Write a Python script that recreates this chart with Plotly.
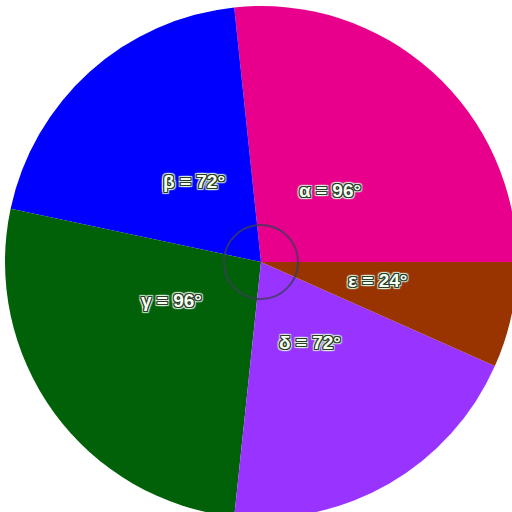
import math
import plotly.graph_objects as go

angles = ["α", "β", "γ", "δ", "ε"]
degrees = [96, 72, 96, 72, 24]
colors = ["#E8008C", "#0000FF", "#006108", "#9933FF", "#993300"]
labels_text = [f"{a} = {d}°" for a, d in zip(angles, degrees)]

# label placement tweaks (fraction of radius, angular nudge in degrees)
label_frac = [0.39, 0.41, 0.38, 0.37, 0.46]
label_nudge = [-2, -2, -13, 1.5, 3]

W = H = 524
CX, CY, R = 261, 262, 256  # pixels from top-left of the page
marker_r = 37

dark = "#2b3a2b"
light = "rgba(215,240,215,0.9)"
ring1 = [f"{dx}px {dy}px 0 {dark}" for dx in (-1, 0, 1) for dy in (-1, 0, 1) if dx or dy]
ring2 = [f"{dx}px {dy}px 1px {light}" for dx in (-2, 0, 2) for dy in (-2, 0, 2) if dx or dy]
shadow = ", ".join(ring1 + ring2)

fig = go.Figure(go.Pie(
    labels=angles,
    values=degrees,
    textinfo="none",
    marker=dict(colors=colors, line=dict(width=0)),
    sort=False,
    direction="counterclockwise",
    rotation=-6,
    showlegend=False,
    hoverinfo="none",
    domain=dict(x=[(CX - R) / W, (CX + R) / W], y=[(H - CY - R) / H, (H - CY + R) / H]),
))

cx, cy = CX / W, (H - CY) / H
total = sum(degrees)
start = 0.0
for txt, v, f, n in zip(labels_text, degrees, label_frac, label_nudge):
    mid = math.radians((start + v / 2) * 360 / total + n)
    start += v
    fig.add_annotation(
        x=cx + f * R * math.cos(mid) / W,
        y=cy + f * R * math.sin(mid) / H,
        xref="paper", yref="paper", xanchor="center", yanchor="middle",
        text=f"<b>{txt}</b>", showarrow=False,
        font=dict(color="#f4fff0", size=19, family="Liberation Sans", shadow=shadow),
    )

fig.add_shape(type="circle", xref="paper", yref="paper",
              x0=cx - marker_r / W, x1=cx + marker_r / W,
              y0=cy - marker_r / H, y1=cy + marker_r / H,
              line=dict(color="rgba(60,60,90,0.8)", width=2))

fig.update_layout(
    width=W, height=H,
    margin=dict(l=0, r=0, t=0, b=0),
    paper_bgcolor="white",
    plot_bgcolor="white",
)

fig.write_html(
    "out.html",
    config={"displayModeBar": False},
    post_script="document.body.style.margin='0';document.body.style.overflow='hidden';",
)
